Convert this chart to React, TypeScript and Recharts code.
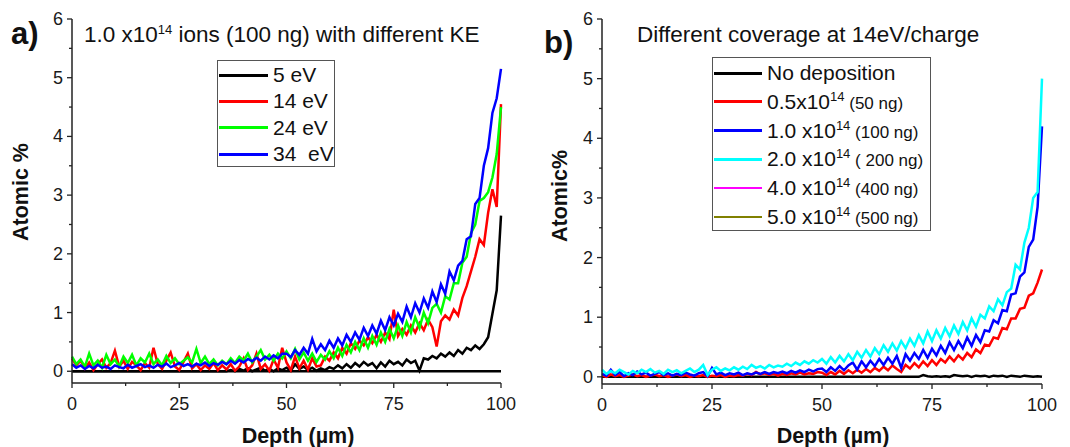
import React from "react";
import { LineChart, Line, XAxis, YAxis, ReferenceLine } from "recharts";

const depth = [
  0, 1, 2, 3, 4, 5, 6, 7, 8, 9, 10, 11, 12, 13, 14, 15, 16, 17, 18, 19, 20, 21, 22, 23, 24, 25, 26, 27, 28, 29, 30, 31, 32, 33,
  34, 35, 36, 37, 38, 39, 40, 41, 42, 43, 44, 45, 46, 47, 48, 49, 50, 51, 52, 53, 54, 55, 56, 57, 58, 59, 60, 61, 62, 63, 64, 65,
  66, 67, 68, 69, 70, 71, 72, 73, 74, 75, 76, 77, 78, 79, 80, 81, 82, 83, 84, 85, 86, 87, 88, 89, 90, 91, 92, 93, 94, 95, 96, 97,
  98, 99, 100,
];

// panel a: 1.0x10^14 ions, different kinetic energy
const ke5eV = [
  0, 0, 0, 0, 0, 0, 0, 0, 0, 0,
  0, 0, 0, 0, 0, 0, 0, 0, 0, 0,
  0, 0, 0, 0, 0, 0, 0, 0, 0, 0,
  0, 0, 0, 0, 0, 0, 0, 0.02, 0, 0.04,
  0.01, 0.05, 0, 0.03, 0.06, 0.01, 0.04, 0, 0.05, 0.02,
  0.06, 0.01, 0.12, 0.04, 0.08, 0.02, 0.06, 0.01, 0.05, 0.02,
  0.07, 0.04, 0.1, 0.05, 0.12, 0.06, 0.14, 0.08, 0.16, 0.1,
  0.14, 0.05, 0.15, 0.08, 0.18, 0.12, 0.16, 0.1, 0.2, 0.14,
  0.18, 0.01, 0.22, 0.2, 0.26, 0.22, 0.3, 0.25, 0.32, 0.26,
  0.36, 0.3, 0.4, 0.36, 0.44, 0.38, 0.46, 0.58, 0.98, 1.38,
  2.65,
];
const ke14eV = [
  0.22, 0.1, 0.18, 0.05, 0.15, 0.02, 0.12, 0.2, 0.06, 0.14,
  0.35, 0.08, 0.18, 0.04, 0.16, 0.1, 0.02, 0.14, 0.06, 0.4,
  0.12, 0.04, 0.18, 0.32, 0.08, 0.02, 0.16, 0.3, 0.05, 0.12,
  0.02, 0.1, 0.04, 0.14, 0.02, 0.1, 0.03, 0.12, 0.01, 0.08,
  0.22, 0.02, 0.1, 0.3, 0.04, 0.12, 0.01, 0.2, 0.06, 0.4,
  0.15, 0.02, 0.25, 0.05, 0.18, 0.03, 0.22, 0.08, 0.1, 0.25,
  0.18, 0.32, 0.22, 0.4, 0.3, 0.48, 0.38, 0.52, 0.44, 0.58,
  0.48, 0.62, 0.5, 0.66, 0.55, 1.05, 0.6, 0.72, 0.62, 0.78,
  0.66, 0.82, 0.7, 0.88, 0.75, 0.42, 0.85, 0.95, 0.88, 1.05,
  0.95, 1.25, 1.45, 1.7, 1.95, 2.25, 2.15, 2.7, 3.1, 2.8,
  4.55,
];
const ke24eV = [
  0.25, 0.12, 0.2, 0.08, 0.3, 0.1, 0.18, 0.06, 0.28, 0.12,
  0.2, 0.08, 0.25, 0.14, 0.28, 0.1, 0.22, 0.15, 0.3, 0.12,
  0.2, 0.1, 0.26, 0.14, 0.22, 0.12, 0.18, 0.24, 0.15, 0.38,
  0.14, 0.25, 0.12, 0.2, 0.1, 0.18, 0.12, 0.22, 0.14, 0.25,
  0.18, 0.3, 0.15, 0.25, 0.36, 0.2, 0.28, 0.18, 0.3, 0.22,
  0.34, 0.22, 0.38, 0.2, 0.32, 0.18, 0.3, 0.16, 0.28, 0.2,
  0.34, 0.22, 0.4, 0.26, 0.45, 0.32, 0.5, 0.36, 0.56, 0.4,
  0.6, 0.45, 0.66, 0.5, 0.72, 0.56, 0.78, 0.6, 0.84, 0.66,
  0.92, 0.74, 1.0, 0.82, 1.08, 1.15, 1.0, 1.28, 1.22, 1.5,
  1.5, 1.85, 1.95, 2.35, 2.5, 2.9, 2.95, 3.05, 3.3, 3.7,
  4.5,
];
const ke34eV = [
  0.12, 0.06, 0.1, 0.04, 0.09, 0.05, 0.11, 0.06, 0.08, 0.04,
  0.1, 0.07, 0.05, 0.11, 0.06, 0.09, 0.12, 0.07, 0.1, 0.06,
  0.11, 0.08, 0.13, 0.07, 0.1, 0.14, 0.09, 0.12, 0.08, 0.13,
  0.1, 0.15, 0.09, 0.14, 0.11, 0.16, 0.12, 0.18, 0.13, 0.19,
  0.15, 0.21, 0.17, 0.23, 0.18, 0.25, 0.2, 0.27, 0.22, 0.3,
  0.3, 0.24, 0.36, 0.28, 0.4, 0.3, 0.55, 0.34, 0.46, 0.36,
  0.52, 0.4, 0.56, 0.44, 0.62, 0.5, 0.66, 0.54, 0.74, 0.6,
  0.78, 0.64, 0.86, 0.7, 0.92, 0.78, 0.98, 0.84, 1.1, 0.92,
  1.16, 1.0, 1.24, 1.08, 1.36, 1.18, 1.48, 1.32, 1.7, 1.55,
  1.8, 1.88, 2.25, 2.3, 2.85, 2.95, 3.5, 3.8, 4.4, 4.65,
  5.15,
];

// panel b: different coverage at 14 eV/charge
const noDeposition = [
  0, 0, 0, 0, 0, 0, 0, 0, 0, 0,
  0, 0, 0, 0, 0, 0, 0, 0, 0, 0,
  0, 0, 0, 0, 0, 0, 0, 0, 0, 0,
  0, 0, 0, 0, 0, 0, 0, 0, 0, 0,
  0, 0, 0, 0, 0, 0, 0, 0, 0, 0,
  0, 0, 0, 0, 0, 0, 0, 0, 0, 0,
  0, 0, 0, 0, 0, 0, 0, 0, 0, 0,
  0, 0, 0, 0.03, 0.01, 0, 0.01, 0, 0.01, 0,
  0.03, 0.02, 0.01, 0.02, 0, 0.02, 0.01, 0.02, 0, 0.02,
  0.01, 0.02, 0, 0.02, 0.01, 0, 0.02, 0.01, 0, 0.01,
  0,
];
const cov50ng = [
  0.02, 0, 0.04, 0.01, 0.03, 0, 0.02, 0.04, 0.01, 0.03,
  0, 0.02, 0.04, 0.01, 0.03, 0, 0.02, 0.04, 0.01, 0.03,
  0, 0.02, 0.01, 0.03, 0, 0.02, 0.01, 0.03, 0, 0.02,
  0.01, 0.03, 0.02, 0.05, 0.03, 0.08, 0.04, 0.06, 0.03, 0.05,
  0.02, 0.05, 0.03, 0.06, 0.04, 0.07, 0.04, 0.06, 0.05, 0.08,
  0.07, 0.03, 0.08, 0.04, 0.1, 0.05, 0.11, 0.06, 0.12, 0.07,
  0.13, 0.08, 0.15, 0.1, 0.17, 0.11, 0.19, 0.13, 0.08, 0.2,
  0.14, 0.23, 0.16, 0.26, 0.18, 0.28, 0.2, 0.3, 0.24, 0.34,
  0.26, 0.36, 0.29, 0.4, 0.33, 0.46, 0.4, 0.54, 0.52, 0.66,
  0.64, 0.82, 0.8, 0.98, 0.98, 1.14, 1.16, 1.36, 1.4, 1.58,
  1.8,
];
const cov100ng = [
  0.05, 0.02, 0.12, 0.03, 0.08, 0.01, 0.06, 0.03, 0.09, 0.04,
  0.07, 0.02, 0.05, 0.08, 0.03, 0.06, 0.02, 0.05, 0.03, 0.07,
  0.04, 0.02, 0.06, 0.08, 0.01, 0.15, 0.04, 0.07, 0.03, 0.06,
  0.04, 0.07, 0.03, 0.06, 0.04, 0.07, 0.05, 0.08, 0.05, 0.08,
  0.06, 0.09, 0.06, 0.1, 0.07, 0.11, 0.08, 0.12, 0.09, 0.13,
  0.14, 0.08, 0.16, 0.1, 0.18, 0.11, 0.19, 0.24, 0.12, 0.26,
  0.16, 0.27, 0.18, 0.3, 0.2, 0.32, 0.22, 0.35, 0.15, 0.38,
  0.27, 0.4, 0.3, 0.45, 0.32, 0.47, 0.36, 0.52, 0.4, 0.58,
  0.45, 0.6, 0.48, 0.66, 0.52, 0.7, 0.58, 0.78, 0.76, 0.95,
  0.9, 1.12, 1.1, 1.38, 1.4, 1.68, 1.75, 2.18, 2.3, 2.85,
  4.2,
];
const cov200ng = [
  0.12, 0.05, 0.1, 0.06, 0.12, 0.08, 0.04, 0.1, 0.06, 0.12,
  0.08, 0.13, 0.07, 0.1, 0.05, 0.12, 0.08, 0.11, 0.06, 0.1,
  0.14, 0.08, 0.12, 0.2, 0.03, 0.12, 0.16, 0.1, 0.14, 0.11,
  0.16, 0.12, 0.17, 0.13, 0.2, 0.15, 0.18, 0.14, 0.2, 0.16,
  0.19, 0.17, 0.22, 0.18, 0.24, 0.2, 0.26, 0.22, 0.28, 0.24,
  0.3, 0.22, 0.33, 0.24, 0.35, 0.26, 0.38, 0.28, 0.42, 0.32,
  0.45, 0.34, 0.48, 0.38, 0.53, 0.42, 0.56, 0.44, 0.6, 0.48,
  0.64, 0.52, 0.7, 0.56, 0.76, 0.6, 0.78, 0.64, 0.82, 0.68,
  0.86, 0.72, 0.92, 0.78, 0.98, 0.84, 1.04, 0.98, 1.18, 1.1,
  1.3, 1.2, 1.42, 1.48, 1.88, 1.8, 2.25, 2.5, 3.0, 3.1,
  5.0,
];

const yTicks = [0, 0.5, 1, 1.5, 2, 2.5, 3, 3.5, 4, 4.5, 5, 5.5, 6];
const xTicks = [0, 12.5, 25, 37.5, 50, 62.5, 75, 87.5, 100];

const dataA = depth.map((d, i) => ({
  depth: d,
  ke5eV: ke5eV[i],
  ke14eV: ke14eV[i],
  ke24eV: ke24eV[i],
  ke34eV: ke34eV[i],
}));

const dataB = depth.map((d, i) => ({
  depth: d,
  noDeposition: noDeposition[i],
  cov50ng: cov50ng[i],
  cov100ng: cov100ng[i],
  cov200ng: cov200ng[i],
}));

const FONT = "'Liberation Sans', Arial, sans-serif";
const AXIS = "#222";

const YTick = (props: any) => {
  const { x, y, payload } = props;
  const major = Number.isInteger(payload.value);
  return (
    <g>
      <line x1={x - (major ? 5 : 3)} x2={x} y1={y} y2={y} stroke={AXIS} strokeWidth={1.3} />
      {major && (
        <text x={x - 9} y={y} textAnchor="end" dominantBaseline="central" fontSize={18} fill="#1a1a1a" fontFamily={FONT}>
          {payload.value}
        </text>
      )}
    </g>
  );
};

const XTick = (props: any) => {
  const { x, y, payload } = props;
  const major = payload.value % 25 === 0;
  return (
    <g>
      <line x1={x} x2={x} y1={y} y2={y + (major ? 5 : 3)} stroke={AXIS} strokeWidth={1.3} />
      {major && (
        <text x={x} y={y + 27} textAnchor="middle" fontSize={18} fill="#1a1a1a" fontFamily={FONT}>
          {payload.value}
        </text>
      )}
    </g>
  );
};

const Sup = ({ base, note }: { base: string; note?: string }) => (
  <span>
    {base}
    <span style={{ fontSize: 13, position: "relative", top: -8 }}>14</span>
    {note && <span style={{ fontSize: 17, whiteSpace: "pre" }}>{note}</span>}
  </span>
);

const legendA = [
  { label: "5 eV", color: "#000000", w: 3 },
  { label: "14 eV", color: "#ff0000", w: 3 },
  { label: "24 eV", color: "#00ff00", w: 3 },
  { label: "34  eV", color: "#0000ff", w: 3 },
];

const legendB = [
  { label: "No deposition", color: "#000000", w: 3 },
  { label: <Sup base="0.5x10" note=" (50 ng)" />, color: "#ff0000", w: 3 },
  { label: <Sup base="1.0 x10" note=" (100 ng)" />, color: "#0000ff", w: 3 },
  { label: <Sup base="2.0 x10" note=" ( 200 ng)" />, color: "#00ffff", w: 3 },
  { label: <Sup base="4.0 x10" note=" (400 ng)" />, color: "#ff00ff", w: 2 },
  { label: <Sup base="5.0 x10" note=" (500 ng)" />, color: "#808000", w: 2 },
];

const LegendBox = ({ left, top, width, height, first, gap, lineW, items }: any) => (
  <div
    style={{
      position: "absolute",
      left,
      top,
      width,
      height,
      border: "1px solid #555",
      background: "#fff",
      boxSizing: "border-box",
      fontFamily: FONT,
      fontSize: 21,
      color: "#111",
    }}
  >
    {items.map((it: any, i: number) => (
      <div key={i} style={{ position: "absolute", left: 0, top: first + i * gap - 12, height: 24, width: "100%" }}>
        <div style={{ position: "absolute", left: 1, top: 12 - it.w / 2, width: lineW, height: it.w, background: it.color }} />
        <div style={{ position: "absolute", left: lineW + 6, top: 0, lineHeight: "24px", whiteSpace: "pre" }}>{it.label}</div>
      </div>
    ))}
  </div>
);

const App = () => {
  return (
    <div style={{ position: "absolute", left: 0, top: 0, width: 1070, height: 447, background: "#fff", overflow: "hidden" }}>
      <div style={{ position: "absolute", left: 0, top: 0 }}>
        <LineChart width={535} height={447} data={dataA} margin={{ top: 19, right: 34, left: 32, bottom: 24 }}>
          <XAxis
            type="number"
            dataKey="depth"
            domain={[0, 100]}
            ticks={xTicks}
            interval={0}
            height={40}
            tickSize={0}
            tickMargin={0}
            tickLine={false}
            tick={<XTick />}
            axisLine={{ stroke: AXIS, strokeWidth: 1.5 }}
          />
          <YAxis
            type="number"
            domain={[-0.2, 6]}
            ticks={yTicks}
            interval={0}
            width={40}
            tickSize={0}
            tickMargin={0}
            tickLine={false}
            tick={<YTick />}
            axisLine={{ stroke: AXIS, strokeWidth: 1.5 }}
          />
          <ReferenceLine y={0} stroke="#000" strokeWidth={2.5} />
          <Line type="linear" dataKey="ke5eV" stroke="#000000" strokeWidth={2.5} dot={false} isAnimationActive={false} />
          <Line type="linear" dataKey="ke14eV" stroke="#ff0000" strokeWidth={2.5} dot={false} isAnimationActive={false} />
          <Line type="linear" dataKey="ke24eV" stroke="#00ff00" strokeWidth={2.5} dot={false} isAnimationActive={false} />
          <Line type="linear" dataKey="ke34eV" stroke="#0000ff" strokeWidth={2.5} dot={false} isAnimationActive={false} />
        </LineChart>
      </div>
      <div style={{ position: "absolute", left: 535, top: 0 }}>
        <LineChart width={535} height={447} data={dataB} margin={{ top: 19, right: 28, left: 27, bottom: 23 }}>
          <XAxis
            type="number"
            dataKey="depth"
            domain={[0, 100]}
            ticks={xTicks}
            interval={0}
            height={40}
            tickSize={0}
            tickMargin={0}
            tickLine={false}
            tick={<XTick />}
            axisLine={{ stroke: AXIS, strokeWidth: 1.5 }}
          />
          <YAxis
            type="number"
            domain={[-0.12, 6]}
            ticks={yTicks}
            interval={0}
            width={40}
            tickSize={0}
            tickMargin={0}
            tickLine={false}
            tick={<YTick />}
            axisLine={{ stroke: AXIS, strokeWidth: 1.5 }}
          />
          <Line type="linear" dataKey="noDeposition" stroke="#000000" strokeWidth={2.5} dot={false} isAnimationActive={false} />
          <Line type="linear" dataKey="cov50ng" stroke="#ff0000" strokeWidth={2.5} dot={false} isAnimationActive={false} />
          <Line type="linear" dataKey="cov100ng" stroke="#0000ff" strokeWidth={2.5} dot={false} isAnimationActive={false} />
          <Line type="linear" dataKey="cov200ng" stroke="#00ffff" strokeWidth={2.5} dot={false} isAnimationActive={false} />
        </LineChart>
      </div>

      <svg width={1070} height={447} style={{ position: "absolute", left: 0, top: 0, pointerEvents: "none" }} fontFamily={FONT}>
        <text x={11} y={44} fontSize={31} fontWeight="bold" fill="#111">a)</text>
        <text x={84} y={42} fontSize={22.5} fill="#111">
          1.0 x10<tspan dy={-8} fontSize={13}>14</tspan>
          <tspan dy={8}> ions (100 ng) with different KE</tspan>
        </text>
        <text transform="translate(28,192) rotate(-90)" textAnchor="middle" fontSize={21.5} fontWeight="bold" fill="#111">Atomic %</text>
        <text x={298} y={443} textAnchor="middle" fontSize={21.5} fontWeight="bold" fill="#111">Depth (µm)</text>

        <text x={544} y={53} fontSize={31} fontWeight="bold" fill="#111">b)</text>
        <text x={637} y={42} fontSize={22.5} fill="#111">Different coverage at 14eV/charge</text>
        <text transform="translate(567,196) rotate(-90)" textAnchor="middle" fontSize={21.5} fontWeight="bold" fill="#111">Atomic%</text>
        <text x={833} y={443} textAnchor="middle" fontSize={21.5} fontWeight="bold" fill="#111">Depth (µm)</text>
      </svg>

      <LegendBox left={217} top={60} width={118} height={107} first={14} gap={26.4} lineW={49} items={legendA} />
      <LegendBox left={712} top={57} width={219} height={174} first={15} gap={28.8} lineW={48} items={legendB} />
    </div>
  );
};

export default App;
